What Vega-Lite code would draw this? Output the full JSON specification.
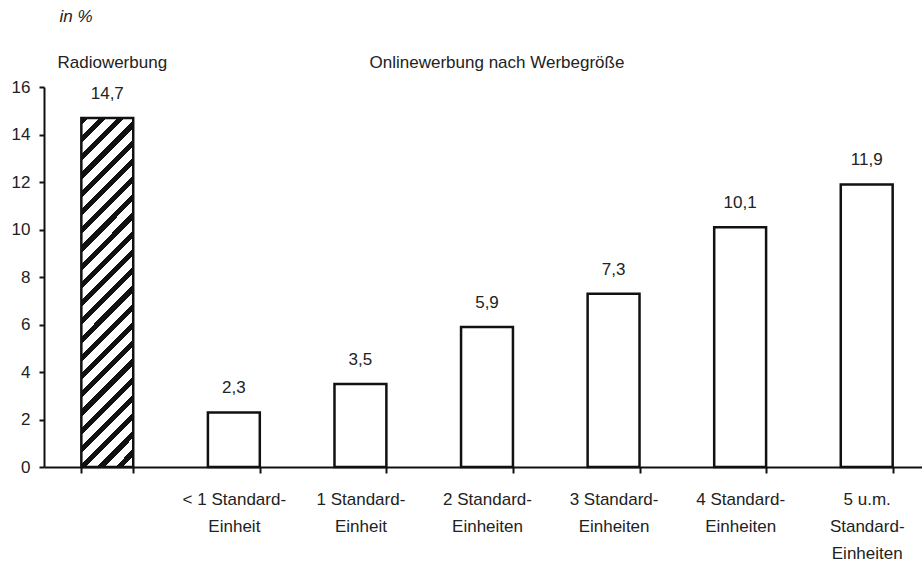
{
  "$schema": "https://vega.github.io/schema/vega-lite/v6.json",
  "autosize": {"type": "none"},
  "width": 878,
  "height": 380,
  "padding": {"left": 44, "top": 87, "right": 0, "bottom": 98},
  "background": "white",
  "datasets": {
    "werte": [
      {"kat": "Radiowerbung", "gruppe": "Radio", "wert": 14.7},
      {"kat": "< 1 Standard-\nEinheit", "gruppe": "Online", "wert": 2.3},
      {"kat": "1 Standard-\nEinheit", "gruppe": "Online", "wert": 3.5},
      {"kat": "2 Standard-\nEinheiten", "gruppe": "Online", "wert": 5.9},
      {"kat": "3 Standard-\nEinheiten", "gruppe": "Online", "wert": 7.3},
      {"kat": "4 Standard-\nEinheiten", "gruppe": "Online", "wert": 10.1},
      {"kat": "5 u.m.\nStandard-\nEinheiten", "gruppe": "Online", "wert": 11.9}
    ],
    "koepfe": [
      {"kat": "Radiowerbung", "kopf": "Radiowerbung"},
      {"kat": "2 Standard-\nEinheiten", "kopf": "Onlinewerbung nach Werbegröße"}
    ]
  },
  "encoding": {
    "x": {
      "field": "kat",
      "type": "nominal",
      "scale": {
        "domain": [
          "Radiowerbung",
          "< 1 Standard-\nEinheit",
          "1 Standard-\nEinheit",
          "2 Standard-\nEinheiten",
          "3 Standard-\nEinheiten",
          "4 Standard-\nEinheiten",
          "5 u.m.\nStandard-\nEinheiten"
        ],
        "range": [0, 886],
        "paddingInner": 0.59,
        "paddingOuter": 0.295
      },
      "axis": {
        "title": null,
        "labelAngle": 0,
        "tickBand": "extent",
        "tickSize": 6,
        "tickWidth": 2,
        "domainWidth": 2,
        "labelPadding": 18,
        "labelBaseline": "top",
        "labelLineHeight": 27,
        "labelExpr": "datum.label == 'Radiowerbung' ? '' : split(datum.label, '\\n')"
      }
    }
  },
  "layer": [
    {
      "data": {"name": "werte"},
      "transform": [{"filter": "datum.gruppe == 'Radio'"}],
      "mark": {
        "type": "bar",
        "stroke": "#111111",
        "strokeWidth": 2.5,
        "fill": {
          "gradient": "linear",
          "x1": 0, "y1": 0, "x2": 0.1674, "y2": 1.124,
          "stops": [
            {"offset": 0, "color": "#111111"}, {"offset": 0.018, "color": "#111111"}, {"offset": 0.018, "color": "#ffffff"}, {"offset": 0.0455, "color": "#ffffff"},
            {"offset": 0.0455, "color": "#111111"}, {"offset": 0.0635, "color": "#111111"}, {"offset": 0.0635, "color": "#ffffff"}, {"offset": 0.0909, "color": "#ffffff"},
            {"offset": 0.0909, "color": "#111111"}, {"offset": 0.1089, "color": "#111111"}, {"offset": 0.1089, "color": "#ffffff"}, {"offset": 0.1364, "color": "#ffffff"},
            {"offset": 0.1364, "color": "#111111"}, {"offset": 0.1544, "color": "#111111"}, {"offset": 0.1544, "color": "#ffffff"}, {"offset": 0.1818, "color": "#ffffff"},
            {"offset": 0.1818, "color": "#111111"}, {"offset": 0.1998, "color": "#111111"}, {"offset": 0.1998, "color": "#ffffff"}, {"offset": 0.2273, "color": "#ffffff"},
            {"offset": 0.2273, "color": "#111111"}, {"offset": 0.2453, "color": "#111111"}, {"offset": 0.2453, "color": "#ffffff"}, {"offset": 0.2727, "color": "#ffffff"},
            {"offset": 0.2727, "color": "#111111"}, {"offset": 0.2907, "color": "#111111"}, {"offset": 0.2907, "color": "#ffffff"}, {"offset": 0.3182, "color": "#ffffff"},
            {"offset": 0.3182, "color": "#111111"}, {"offset": 0.3362, "color": "#111111"}, {"offset": 0.3362, "color": "#ffffff"}, {"offset": 0.3636, "color": "#ffffff"},
            {"offset": 0.3636, "color": "#111111"}, {"offset": 0.3816, "color": "#111111"}, {"offset": 0.3816, "color": "#ffffff"}, {"offset": 0.4091, "color": "#ffffff"},
            {"offset": 0.4091, "color": "#111111"}, {"offset": 0.4271, "color": "#111111"}, {"offset": 0.4271, "color": "#ffffff"}, {"offset": 0.4545, "color": "#ffffff"},
            {"offset": 0.4545, "color": "#111111"}, {"offset": 0.4725, "color": "#111111"}, {"offset": 0.4725, "color": "#ffffff"}, {"offset": 0.5, "color": "#ffffff"},
            {"offset": 0.5, "color": "#111111"}, {"offset": 0.518, "color": "#111111"}, {"offset": 0.518, "color": "#ffffff"}, {"offset": 0.5455, "color": "#ffffff"},
            {"offset": 0.5455, "color": "#111111"}, {"offset": 0.5635, "color": "#111111"}, {"offset": 0.5635, "color": "#ffffff"}, {"offset": 0.5909, "color": "#ffffff"},
            {"offset": 0.5909, "color": "#111111"}, {"offset": 0.6089, "color": "#111111"}, {"offset": 0.6089, "color": "#ffffff"}, {"offset": 0.6364, "color": "#ffffff"},
            {"offset": 0.6364, "color": "#111111"}, {"offset": 0.6544, "color": "#111111"}, {"offset": 0.6544, "color": "#ffffff"}, {"offset": 0.6818, "color": "#ffffff"},
            {"offset": 0.6818, "color": "#111111"}, {"offset": 0.6998, "color": "#111111"}, {"offset": 0.6998, "color": "#ffffff"}, {"offset": 0.7273, "color": "#ffffff"},
            {"offset": 0.7273, "color": "#111111"}, {"offset": 0.7453, "color": "#111111"}, {"offset": 0.7453, "color": "#ffffff"}, {"offset": 0.7727, "color": "#ffffff"},
            {"offset": 0.7727, "color": "#111111"}, {"offset": 0.7907, "color": "#111111"}, {"offset": 0.7907, "color": "#ffffff"}, {"offset": 0.8182, "color": "#ffffff"},
            {"offset": 0.8182, "color": "#111111"}, {"offset": 0.8362, "color": "#111111"}, {"offset": 0.8362, "color": "#ffffff"}, {"offset": 0.8636, "color": "#ffffff"},
            {"offset": 0.8636, "color": "#111111"}, {"offset": 0.8816, "color": "#111111"}, {"offset": 0.8816, "color": "#ffffff"}, {"offset": 0.9091, "color": "#ffffff"},
            {"offset": 0.9091, "color": "#111111"}, {"offset": 0.9271, "color": "#111111"}, {"offset": 0.9271, "color": "#ffffff"}, {"offset": 0.9545, "color": "#ffffff"},
            {"offset": 0.9545, "color": "#111111"}, {"offset": 0.9725, "color": "#111111"}, {"offset": 0.9725, "color": "#ffffff"}, {"offset": 1, "color": "#ffffff"}
          ]
        }
      },
      "encoding": {
        "y": {
          "field": "wert",
          "type": "quantitative",
          "scale": {"domain": [0, 16], "nice": false},
          "axis": {
            "values": [0, 2, 4, 6, 8, 10, 12, 14, 16],
            "format": "d",
            "grid": false,
            "tickSize": 5,
            "tickWidth": 2,
            "domainWidth": 2,
            "labelPadding": 9,
            "title": "in %",
            "titleAngle": 0,
            "titleX": 15,
            "titleY": -71,
            "titleAlign": "left",
            "titleBaseline": "middle",
            "titleFontStyle": "italic",
            "titleFontWeight": "normal"
          }
        }
      }
    },
    {
      "data": {"name": "werte"},
      "transform": [{"filter": "datum.gruppe == 'Online'"}],
      "mark": {"type": "bar", "fill": "#ffffff", "stroke": "#111111", "strokeWidth": 2.5},
      "encoding": {"y": {"field": "wert", "type": "quantitative"}}
    },
    {
      "data": {"name": "werte"},
      "mark": {"type": "text", "baseline": "alphabetic", "dy": -19},
      "encoding": {
        "y": {"field": "wert", "type": "quantitative"},
        "text": {"field": "wert", "type": "quantitative", "format": ".1f"}
      }
    },
    {
      "data": {"name": "koepfe"},
      "transform": [{"filter": "datum.kat == 'Radiowerbung'"}],
      "mark": {"type": "text", "baseline": "middle", "dx": 5, "dy": -24},
      "encoding": {
        "y": {"datum": 16, "type": "quantitative"},
        "text": {"field": "kopf"}
      }
    },
    {
      "data": {"name": "koepfe"},
      "transform": [{"filter": "datum.kat != 'Radiowerbung'"}],
      "mark": {"type": "text", "baseline": "middle", "dx": 10, "dy": -24},
      "encoding": {
        "y": {"datum": 16, "type": "quantitative"},
        "text": {"field": "kopf"}
      }
    }
  ],
  "config": {
    "locale": {
      "number": {"decimal": ",", "thousands": ".", "grouping": [3], "currency": ["", " €"]}
    },
    "font": "Liberation Sans",
    "view": {"stroke": null},
    "axis": {
      "domainColor": "#111111",
      "tickColor": "#111111",
      "labelColor": "#222222",
      "titleColor": "#222222",
      "labelFontSize": 17,
      "titleFontSize": 17,
      "labelFont": "Liberation Sans",
      "titleFont": "Liberation Sans"
    },
    "text": {"fontSize": 17, "color": "#222222", "font": "Liberation Sans"}
  }
}
